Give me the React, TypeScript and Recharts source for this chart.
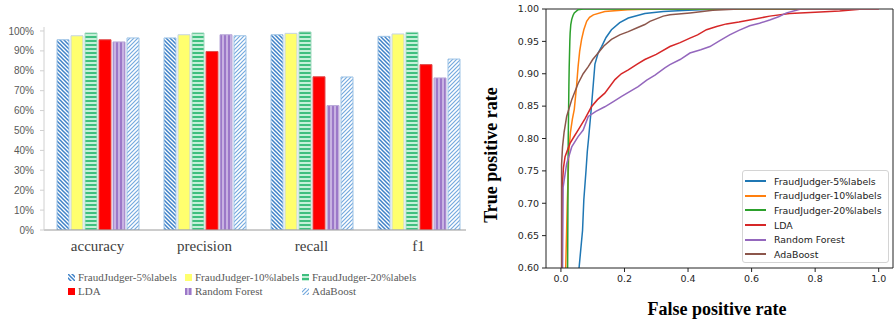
import React from "react";
import { BarChart, Bar, XAxis, YAxis, LineChart, Line, ReferenceLine } from "recharts";

// left panel: metric bars
const metrics = ["accuracy", "precision", "recall", "f1"];
const fj5Scores = [0.956, 0.965, 0.981, 0.973];
const fj10Scores = [0.976, 0.981, 0.988, 0.985];
const fj20Scores = [0.99, 0.99, 0.995, 0.993];
const ldaScores = [0.956, 0.897, 0.77, 0.831];
const rfScores = [0.945, 0.981, 0.625, 0.764];
const adaScores = [0.965, 0.976, 0.769, 0.859];
const pctTicks = [0, 0.1, 0.2, 0.3, 0.4, 0.5, 0.6, 0.7, 0.8, 0.9, 1];

// right panel: ROC curves as [fpr, tpr]
const rocFj5 = [
  [0.05, 0.45], [0.057, 0.6], [0.068, 0.658], [0.072, 0.705], [0.079, 0.751], [0.083, 0.78],
  [0.087, 0.8], [0.096, 0.849], [0.102, 0.885], [0.107, 0.915], [0.117, 0.932], [0.128, 0.942],
  [0.142, 0.956], [0.159, 0.968], [0.185, 0.979], [0.212, 0.986], [0.264, 0.993], [0.322, 0.996],
  [0.4, 0.998], [0.5, 1.0], [1.0, 1.0],
];
const rocFj10 = [
  [0.012, 0.45], [0.015, 0.6], [0.02, 0.7], [0.025, 0.78], [0.03, 0.81], [0.036, 0.83],
  [0.042, 0.845], [0.049, 0.88], [0.054, 0.911], [0.059, 0.935], [0.065, 0.953], [0.072, 0.968],
  [0.081, 0.981], [0.09, 0.987], [0.102, 0.991], [0.138, 0.996], [0.21, 0.999], [0.3, 1.0], [1.0, 1.0],
];
const rocFj20 = [
  [0.019, 0.45], [0.021, 0.6], [0.022, 0.7], [0.023, 0.8], [0.025, 0.88], [0.026, 0.91],
  [0.028, 0.95], [0.029, 0.963], [0.031, 0.976], [0.034, 0.984], [0.038, 0.99], [0.042, 0.994],
  [0.054, 0.999], [0.07, 1.0], [1.0, 1.0],
];
const rocLda = [
  [0.0, 0.45], [0.003, 0.6], [0.004, 0.725], [0.008, 0.755], [0.013, 0.772], [0.028, 0.792],
  [0.044, 0.805], [0.054, 0.813], [0.075, 0.83], [0.096, 0.849], [0.115, 0.86], [0.138, 0.87],
  [0.17, 0.891], [0.19, 0.9], [0.212, 0.906], [0.24, 0.915], [0.264, 0.922], [0.3, 0.93],
  [0.343, 0.942], [0.375, 0.948], [0.406, 0.955], [0.43, 0.96], [0.458, 0.968], [0.49, 0.973],
  [0.521, 0.977], [0.56, 0.98], [0.594, 0.983], [0.657, 0.989], [0.72, 0.993], [0.8, 0.995],
  [0.877, 0.997], [0.95, 1.0], [1.0, 1.0],
];
const rocRf = [
  [0.0, 0.45], [0.005, 0.6], [0.007, 0.725], [0.018, 0.761], [0.034, 0.787], [0.054, 0.803],
  [0.07, 0.813], [0.086, 0.834], [0.11, 0.842], [0.138, 0.849], [0.165, 0.857], [0.191, 0.865],
  [0.215, 0.872], [0.243, 0.88], [0.27, 0.89], [0.296, 0.898], [0.327, 0.909], [0.343, 0.914],
  [0.375, 0.922], [0.406, 0.932], [0.44, 0.937], [0.469, 0.942], [0.5, 0.951], [0.531, 0.96],
  [0.56, 0.967], [0.594, 0.974], [0.625, 0.978], [0.657, 0.983], [0.685, 0.988], [0.71, 0.994],
  [0.741, 0.998], [0.755, 1.0], [1.0, 1.0],
];
const rocAda = [
  [0.0, 0.45], [0.002, 0.6], [0.002, 0.76], [0.005, 0.787], [0.01, 0.81], [0.018, 0.834],
  [0.034, 0.86], [0.054, 0.885], [0.07, 0.9], [0.086, 0.911], [0.1, 0.922], [0.117, 0.932],
  [0.135, 0.943], [0.159, 0.953], [0.185, 0.96], [0.212, 0.965], [0.24, 0.971], [0.264, 0.976],
  [0.28, 0.981], [0.322, 0.989], [0.343, 0.991], [0.406, 0.994], [0.478, 0.998], [0.56, 1.0], [1.0, 1.0],
];
const fprTicks = [0, 0.2, 0.4, 0.6, 0.8, 1.0];
const tprTicks = [0.6, 0.65, 0.7, 0.75, 0.8, 0.85, 0.9, 0.95, 1.0];

const barSeries = [
  { key: "fj5", name: "FraudJudger-5%labels", fill: "url(#pat5)", stroke: "#9dc3e6" },
  { key: "fj10", name: "FraudJudger-10%labels", fill: "#ffff6e", stroke: "#c5d5e5" },
  { key: "fj20", name: "FraudJudger-20%labels", fill: "url(#pat20)", stroke: "#a3d9c0" },
  { key: "lda", name: "LDA", fill: "#ff0000", stroke: "#e05050" },
  { key: "rf", name: "Random Forest", fill: "url(#patRf)", stroke: "#b8a8d8" },
  { key: "ada", name: "AdaBoost", fill: "url(#patAda)", stroke: "#9dc3e6" },
];

const rocSeries = [
  { name: "FraudJudger-5%labels", pts: rocFj5, color: "#1f77b4" },
  { name: "FraudJudger-10%labels", pts: rocFj10, color: "#ff7f0e" },
  { name: "FraudJudger-20%labels", pts: rocFj20, color: "#2ca02c" },
  { name: "LDA", pts: rocLda, color: "#d62728" },
  { name: "Random Forest", pts: rocRf, color: "#9467bd" },
  { name: "AdaBoost", pts: rocAda, color: "#8c564b" },
];

const barData = metrics.map((m, i) => ({
  metric: m,
  fj5: fj5Scores[i],
  fj10: fj10Scores[i],
  fj20: fj20Scores[i],
  lda: ldaScores[i],
  rf: rfScores[i],
  ada: adaScores[i],
}));

const toPts = (pts: number[][]) => pts.map(([fpr, tpr]) => ({ fpr, tpr }));

const serif = "'Liberation Serif', 'DejaVu Serif', serif";
const mpl = "'DejaVu Sans', sans-serif";

function BarPanel() {
  const legendPos = [
    [68, 271], [185, 271], [302, 271],
    [68, 285], [185, 285], [302, 285],
  ];
  return (
    <div style={{ position: "absolute", left: 0, top: 0, width: 472, height: 322 }}>
      <BarChart
        width={472}
        height={322}
        data={barData}
        margin={{ top: 27, right: 0, bottom: 62, left: 0 }}
        barCategoryGap={12}
        barGap={2}
      >
        <defs>
          <pattern id="pat5" width="4" height="4" patternUnits="userSpaceOnUse">
            <rect width="4" height="4" fill="#ffffff" />
            <path d="M-1,-1 L5,5 M-1,3 L1,5 M3,-1 L5,1" stroke="#3f82c8" strokeWidth="1.5" />
          </pattern>
          <pattern id="patAda" width="4" height="4" patternUnits="userSpaceOnUse">
            <rect width="4" height="4" fill="#ffffff" />
            <path d="M-1,5 L5,-1 M-1,1 L1,-1 M3,5 L5,3" stroke="#74a9de" strokeWidth="1.2" />
          </pattern>
          <pattern id="pat20" width="4" height="4" patternUnits="userSpaceOnUse">
            <rect width="4" height="4" fill="#c4f0d8" />
            <rect width="4" height="2" fill="#3fbf7f" />
          </pattern>
          <pattern id="patRf" width="4" height="4" patternUnits="userSpaceOnUse">
            <rect width="4" height="4" fill="#c8b2e2" />
            <rect width="2" height="4" fill="#9c78c8" />
          </pattern>
        </defs>
        <XAxis
          dataKey="metric"
          axisLine={{ stroke: "#9a9a9a" }}
          tickLine={false}
          tickSize={0}
          tickMargin={10}
          height={30}
          tick={{ fill: "#404040", fontSize: 15, fontFamily: serif }}
        />
        <YAxis
          domain={[0, 1.02]}
          ticks={pctTicks}
          allowDataOverflow
          width={44}
          axisLine={{ stroke: "#d0d0d0" }}
          tickLine={{ stroke: "#d0d0d0" }}
          tickSize={4}
          tickMargin={6}
          tickFormatter={(v: number) => `${Math.round(v * 100)}%`}
          tick={{ fill: "#595959", fontSize: 10, fontFamily: "'Liberation Sans', sans-serif" }}
        />
        {barSeries.map((s) => (
          <Bar
            key={s.key}
            dataKey={s.key}
            name={s.name}
            fill={s.fill}
            stroke={s.stroke}
            strokeWidth={1}
            barSize={12}
            isAnimationActive={false}
          />
        ))}
      </BarChart>
      {barSeries.map((s, i) => (
        <div
          key={s.key}
          style={{
            position: "absolute",
            left: legendPos[i][0],
            top: legendPos[i][1],
            display: "flex",
            alignItems: "center",
            fontFamily: serif,
            fontSize: 11,
            color: "#595959",
            whiteSpace: "nowrap",
          }}
        >
          <svg width={7} height={7} style={{ marginRight: 3 }}>
            <rect x={0} y={0} width={7} height={7} fill={s.fill} />
          </svg>
          <span style={{ fontFamily: serif }}>{s.name}</span>
        </div>
      ))}
    </div>
  );
}

function RocPanel() {
  return (
    <div style={{ position: "absolute", left: 466, top: 0, width: 428, height: 322, background: "#ffffff" }}>
      <LineChart width={428} height={322} margin={{ top: 9, right: 1, bottom: 24, left: 0 }}>
        <XAxis
          type="number"
          dataKey="fpr"
          domain={[-0.047, 1.045]}
          ticks={fprTicks}
          allowDataOverflow
          height={30}
          axisLine={{ stroke: "#222" }}
          tickLine={{ stroke: "#222" }}
          tickSize={4}
          tickMargin={3}
          tickFormatter={(v: number) => v.toFixed(1)}
          tick={{ fill: "#262626", fontSize: 9.5, fontFamily: mpl }}
        />
        <YAxis
          type="number"
          domain={[0.6, 1.0]}
          ticks={tprTicks}
          allowDataOverflow
          width={80}
          axisLine={{ stroke: "#222" }}
          tickLine={{ stroke: "#222" }}
          tickSize={4}
          tickMargin={3}
          tickFormatter={(v: number) => v.toFixed(2)}
          tick={{ fill: "#262626", fontSize: 9.5, fontFamily: mpl }}
        />
        <ReferenceLine y={1.0} stroke="#222" strokeWidth={1} />
        <ReferenceLine x={1.045} stroke="#222" strokeWidth={1} />
        {rocSeries.map((s) => (
          <Line
            key={s.name}
            data={toPts(s.pts)}
            dataKey="tpr"
            name={s.name}
            type="linear"
            stroke={s.color}
            strokeWidth={1.5}
            dot={false}
            isAnimationActive={false}
          />
        ))}
      </LineChart>
      <div
        style={{
          position: "absolute",
          left: 25,
          top: 155,
          transform: "translate(-50%, -50%) rotate(-90deg)",
          fontFamily: serif,
          fontWeight: "bold",
          fontSize: 18,
          color: "#000",
          whiteSpace: "nowrap",
        }}
      >
        True positive rate
      </div>
      <div
        style={{
          position: "absolute",
          left: 251,
          top: 309,
          transform: "translate(-50%, -50%)",
          fontFamily: serif,
          fontWeight: "bold",
          fontSize: 18,
          color: "#000",
          whiteSpace: "nowrap",
        }}
      >
        False positive rate
      </div>
      <div
        style={{
          position: "absolute",
          left: 276,
          top: 170,
          width: 147,
          height: 93,
          boxSizing: "border-box",
          border: "1px solid #d4d4d4",
          borderRadius: 3,
          background: "rgba(255,255,255,0.85)",
          paddingTop: 3,
        }}
      >
        {rocSeries.map((s) => (
          <div
            key={s.name}
            style={{ display: "flex", alignItems: "center", height: 14.6, fontFamily: mpl, fontSize: 9.4, color: "#222" }}
          >
            <svg width={21} height={4} style={{ marginLeft: 2, marginRight: 8 }}>
              <line x1={0} y1={2} x2={21} y2={2} stroke={s.color} strokeWidth={2} />
            </svg>
            {s.name}
          </div>
        ))}
      </div>
    </div>
  );
}

export default function App() {
  return (
    <div style={{ position: "absolute", left: 0, top: 0, width: 894, height: 322, background: "#ffffff", overflow: "hidden" }}>
      <BarPanel />
      <RocPanel />
    </div>
  );
}
